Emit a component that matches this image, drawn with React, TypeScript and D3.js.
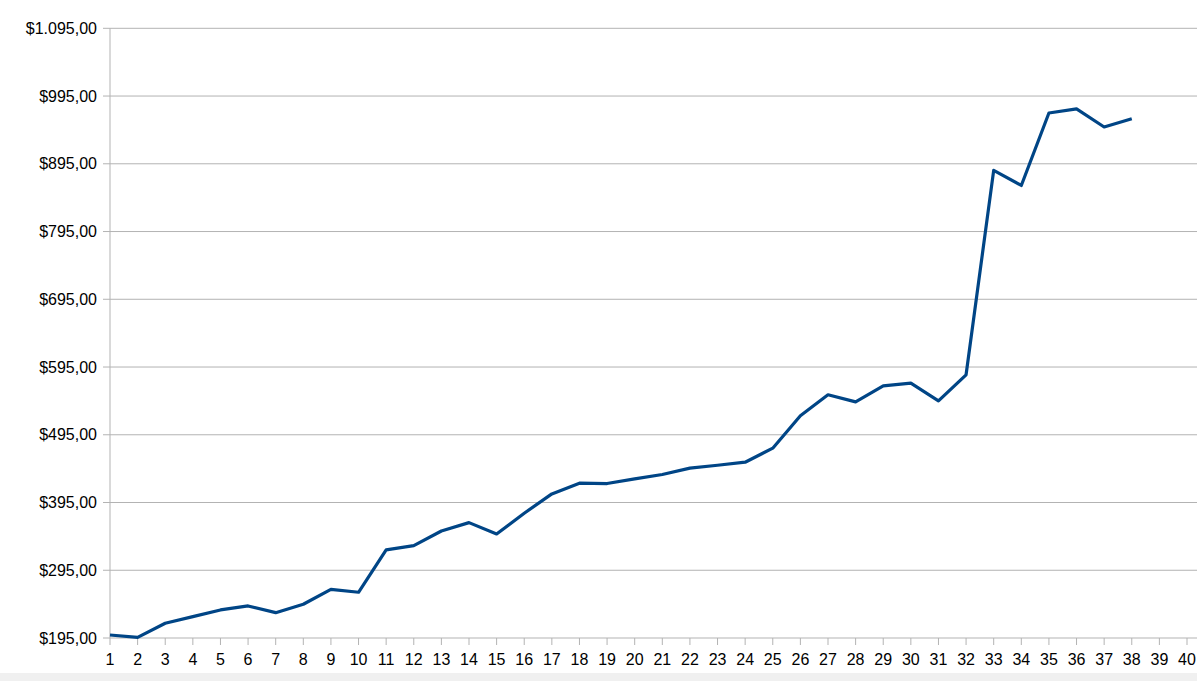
import { useRef, useEffect } from "react"
import * as d3 from "d3"

// x categories 1..40, values only for the first 38
const periods = d3.range(1, 41)
const prices = [
  199.4, 196, 216.7, 226.5, 236.4, 242.3, 232.4, 244.8, 266.9, 262.5,
  325, 331.3, 353, 365.3, 348.6, 379.2, 407.7, 423.5, 423, 430,
  436.3, 445.7, 450, 454.5, 475.2, 523, 554, 543.6, 567.2, 571.2,
  545, 583.5, 885.3, 863, 970, 976, 949.3, 961.6,
]
const yTicks = [195, 295, 395, 495, 595, 695, 795, 895, 995, 1095]

const W = 1197
const H = 681

const fmt = (v: number) => {
  // $1.095,00 style: dot thousands, comma decimals
  const [int, dec] = v.toFixed(2).split(".")
  return "$" + int.replace(/\B(?=(\d{3})+(?!\d))/g, ".") + "," + dec
}

export default function App() {
  const svgRef = useRef<SVGSVGElement | null>(null)

  useEffect(() => {
    if (!svgRef.current) return
    const svg = d3.select(svgRef.current)
    svg.selectAll("*").remove()

    const left = 110
    const right = 1187
    const top = 28.3
    const bottom = 638

    const x = d3.scaleLinear().domain([1, 40]).range([left, right])
    const y = d3.scaleLinear().domain([195, 1095]).range([bottom, top])

    svg.append("rect").attr("width", W).attr("height", H).attr("fill", "#ffffff")
    svg.append("rect").attr("x", 0).attr("y", 673).attr("width", W).attr("height", H - 673).attr("fill", "#f0f0f0")

    // gridlines
    svg
      .append("g")
      .selectAll("line")
      .data(yTicks)
      .enter()
      .append("line")
      .attr("x1", left - 7)
      .attr("x2", W)
      .attr("y1", (d) => y(d))
      .attr("y2", (d) => y(d))
      .attr("stroke", "#b3b3b3")
      .attr("stroke-width", 1)

    // y axis line
    svg
      .append("line")
      .attr("x1", left)
      .attr("x2", left)
      .attr("y1", top)
      .attr("y2", bottom)
      .attr("stroke", "#b3b3b3")

    // y labels
    svg
      .append("g")
      .selectAll("text")
      .data(yTicks)
      .enter()
      .append("text")
      .attr("x", 97)
      .attr("y", (d) => y(d))
      .attr("dy", "0.35em")
      .attr("text-anchor", "end")
      .style("font-family", "'Liberation Sans', Arial, sans-serif")
      .style("font-size", "16px")
      .attr("fill", "#000")
      .text((d) => fmt(d))

    // x ticks and labels
    const xg = svg.append("g")
    xg.selectAll("line")
      .data(periods)
      .enter()
      .append("line")
      .attr("x1", (d) => x(d))
      .attr("x2", (d) => x(d))
      .attr("y1", bottom)
      .attr("y2", bottom + 7)
      .attr("stroke", "#b3b3b3")
    xg.selectAll("text")
      .data(periods)
      .enter()
      .append("text")
      .attr("x", (d) => x(d))
      .attr("y", 659)
      .attr("dy", "0.35em")
      .attr("text-anchor", "middle")
      .style("font-family", "'Liberation Sans', Arial, sans-serif")
      .style("font-size", "16px")
      .attr("fill", "#000")
      .text((d) => String(d))

    // price line
    const line = d3
      .line<number>()
      .x((_, i) => x(periods[i]))
      .y((d) => y(d))
    svg
      .append("path")
      .datum(prices)
      .attr("d", line)
      .attr("fill", "none")
      .attr("stroke", "#004586")
      .attr("stroke-width", 3.2)
      .attr("stroke-linejoin", "round")
  }, [])

  return (
    <div style={{ position: "fixed", left: 0, top: 0 }}>
      <svg ref={svgRef} width={W} height={H} style={{ display: "block" }}></svg>
    </div>
  )
}
